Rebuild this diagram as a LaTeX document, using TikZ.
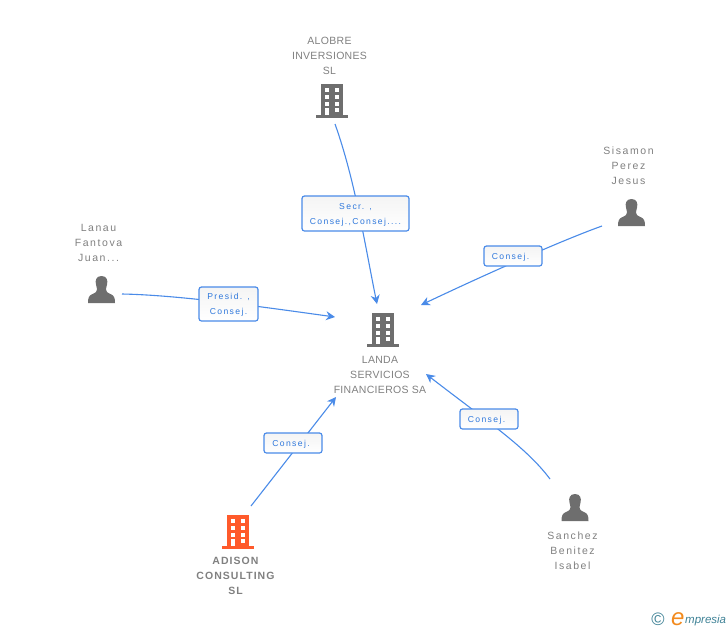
\documentclass[tikz,border=0pt]{standalone}
\usepackage{fontspec}
\setmainfont{Liberation Sans}
\newfontfamily\capsfont[LetterSpace=3]{Liberation Sans}
\newfontfamily\namefont[LetterSpace=15]{Liberation Sans}
\newfontfamily\boldnamefont[LetterSpace=10]{Liberation Sans}
\newfontfamily\tagfont[LetterSpace=16]{Liberation Sans}
\usetikzlibrary{arrows.meta,backgrounds}
\newcommand{\tagstrut}{\rule{0pt}{8.3pt}}
\definecolor{namegrey}{HTML}{808080}
\definecolor{icongrey}{HTML}{6E6E6E}
\definecolor{linkblue}{HTML}{4A8BE8}
\definecolor{tagblue}{HTML}{2F78DC}
\definecolor{tagshade}{HTML}{F4F4F4}
\definecolor{adisonred}{HTML}{FF5A2B}
\definecolor{logoteal}{HTML}{3F8296}
\definecolor{logoorange}{HTML}{F28A1E}
\tikzset{
  capsname/.style={align=center,text=namegrey,font=\capsfont\fontsize{10.5}{15}\selectfont,inner sep=0pt},
  nametext/.style={align=center,text=namegrey,font=\namefont\fontsize{10.5}{15}\selectfont,inner sep=0pt},
  boldname/.style={align=center,text=namegrey,font=\boldnamefont\fontsize{10.5}{15}\selectfont\bfseries,inner sep=0pt},
  tagbox/.style={draw=linkblue,line width=1.2pt,rounded corners=2.5pt,top color=tagshade,bottom color=white,text=tagblue,align=center,
     font=\tagfont\fontsize{8.6}{15}\selectfont,inner sep=0pt,anchor=center},
  conn/.style={draw=linkblue,line width=1.1pt},
  arr/.style={conn,-{Stealth[length=9pt,width=9pt]}},
  pics/building/.style={code={
    \fill[#1] (-11,-17) rectangle (11.3,14);
    \fill[#1] (-16,14) rectangle (16,17);
    \foreach \yy in {-12.7,-6,0.7}{
      \fill[white] (-7,\yy) rectangle (-2.7,\yy+4);
      \fill[white] (2.7,\yy) rectangle (7.3,\yy+4);
    }
    \fill[white] (-7,7) rectangle (-2.7,14);
    \fill[white] (2.7,7) rectangle (7.3,11);
  }},
  pics/person/.style={code={
    \fill[icongrey] (0,-13.5) .. controls (-5.5,-13.5) and (-6.5,-9) .. (-5.5,-5)
      .. controls (-5,-2.5) and (-4.5,-1) .. (-4.5,0) .. controls (-4.5,2) and (-5.5,3) .. (-9,4.5)
      .. controls (-12.5,6) and (-13.5,8) .. (-13.5,13.5) -- (13.5,13.5)
      .. controls (13.5,8) and (12.5,6) .. (9,4.5) .. controls (5.5,3) and (4.5,2) .. (4.5,0)
      .. controls (4.5,-1) and (5,-2.5) .. (5.5,-5) .. controls (6.5,-9) and (5.5,-13.5) .. (0,-13.5) -- cycle;
  }}
}
\begin{document}
\begin{tikzpicture}[x=1pt,y=-1pt]
\useasboundingbox (0,0) rectangle (728,630);
% icons
\pic at (332,101) {building=icongrey};
\pic at (383,330) {building=icongrey};
\pic at (238,532) {building=adisonred};
\pic at (101.5,289.5) {person};
\pic at (631.5,212.5) {person};
\pic at (575,507.5) {person};
% names
\node[capsname] (alobre) at (329.5,55.5) {ALOBRE\\INVERSIONES\\SL};
\node[capsname] (landa) at (380,374.5) {LANDA\\SERVICIOS\\FINANCIEROS SA};
\node[boldname] (adison) at (235.5,575.5) {ADISON\\CONSULTING\\SL};
\node[nametext] (lanau) at (98.5,242.5) {Lanau\\Fantova\\Juan...};
\node[nametext] (sisamon) at (628.5,165.5) {Sisamon\\Perez\\Jesus};
\node[nametext] (sanchez) at (572.5,550.5) {Sanchez\\Benitez\\Isabel};
% connector ends
\coordinate (alobreOut) at (335,124);
\coordinate (landaTop) at (377,304);
\coordinate (sisamonOut) at (602,226);
\coordinate (landaRight) at (421,305);
\coordinate (lanauOut) at (122,294);
\coordinate (landaLeft) at (335,317);
\coordinate (adisonOut) at (251,506);
\coordinate (landaLow) at (336,397);
\coordinate (sanchezOut) at (550,479);
\coordinate (landaBelow) at (426,374);
% edge labels
\node[tagbox,minimum width=107pt,minimum height=35pt] (tagA) at (355.5,213.5) {\tagstrut Secr. ,\\Consej.,Consej....};
\node[tagbox,minimum width=58pt,minimum height=20pt] (tagB) at (513,256) {\tagstrut Consej.\hspace*{5pt}};
\node[tagbox,minimum width=59pt,minimum height=34pt] (tagC) at (228.5,304) {\tagstrut Presid. ,\\Consej.};
\node[tagbox,minimum width=58pt,minimum height=20pt] (tagD) at (293,443) {\tagstrut Consej.\hspace*{4pt}};
\node[tagbox,minimum width=58pt,minimum height=20pt] (tagE) at (489,419) {\tagstrut Consej.\hspace*{5pt}};
% connectors
\begin{scope}[on background layer]
\draw[arr] (alobreOut) .. controls (355,180) and (365,245) .. (landaTop);
\draw[arr] (sisamonOut) .. controls (560,241) and (480,277) .. (landaRight);
\draw[arr] (lanauOut) .. controls (180,295) and (270,308) .. (landaLeft);
\draw[arr] (adisonOut) -- (landaLow);
\draw[arr] (sanchezOut) .. controls (526,447) and (488,422) .. (landaBelow);
\end{scope}
% logo
\node[inner sep=0pt,text=logoteal,font=\fontsize{18}{18}\selectfont] (copyr) at (658,619) {©};
\node[inner sep=0pt,anchor=base west,text=logoorange,font=\itshape\fontsize{24}{24}\selectfont] (logoE) at (671,625) {e};
\node[inner sep=0pt,anchor=base west,text=logoteal,font=\itshape\fontsize{11.5}{12}\selectfont] (logoT) at (685,623) {mpresia};
\end{tikzpicture}
\end{document}
